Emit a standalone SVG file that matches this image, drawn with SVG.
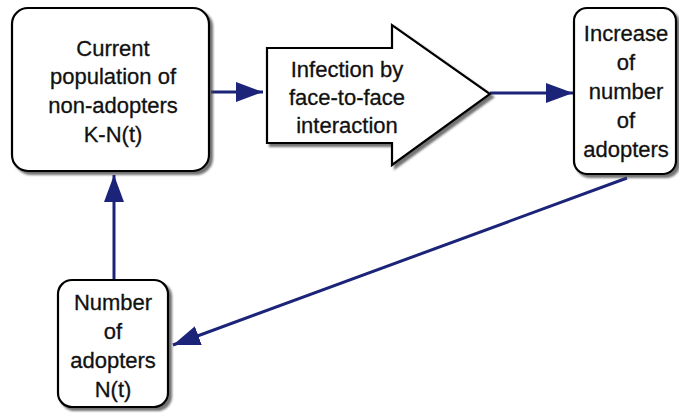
<svg xmlns="http://www.w3.org/2000/svg" width="679" height="418" viewBox="0 0 679 418">
<style>
.node{fill:#ffffff;stroke:#000000;stroke-width:2.2;filter:url(#sh)}
.t{font-family:"Liberation Sans",Arial,sans-serif;font-size:22px;fill:#111111;stroke:#111111;stroke-width:0.3;text-anchor:middle}
.c{stroke:#1b2479;stroke-width:3;fill:none;marker-end:url(#ah)}
</style>
<defs>
<filter id="sh" x="-10%" y="-10%" width="130%" height="130%">
<feDropShadow dx="3" dy="3" stdDeviation="1.2" flood-color="#444444" flood-opacity="0.75"/>
</filter>
<marker id="ah" markerUnits="userSpaceOnUse" viewBox="0 0 27 20" markerWidth="27" markerHeight="20" refX="27" refY="10" orient="auto">
<path d="M0,0 L27,10 L0,20 z" fill="#1b2479"/>
</marker>
</defs>
<rect width="679" height="418" fill="#ffffff"/>
<g id="connectors">
<line class="c" x1="211" y1="92" x2="263" y2="92"/>
<line class="c" x1="490" y1="93" x2="573" y2="93"/>
<line class="c" x1="114" y1="280" x2="114" y2="175"/>
<line class="c" x1="627" y1="178" x2="173" y2="345"/>
</g>
<g id="current-population">
<rect class="node" x="12" y="8" width="197" height="163" rx="16"/>
<text class="t" x="113" y="56">Current</text>
<text class="t" x="113" y="84">population of</text>
<text class="t" x="113" y="113">non-adopters</text>
<text class="t" x="113" y="142">K-N(t)</text>
</g>
<g id="infection">
<polygon class="node" points="267,48 392,48 392,25 490,94 392,165 392,143 267,143"/>
<text class="t" x="347" y="77">Infection by</text>
<text class="t" x="347" y="105">face-to-face</text>
<text class="t" x="347" y="133">interaction</text>
</g>
<g id="increase">
<rect class="node" x="574" y="8" width="102" height="166" rx="13"/>
<text class="t" x="626" y="41">Increase</text>
<text class="t" x="626" y="70">of</text>
<text class="t" x="626" y="99">number</text>
<text class="t" x="626" y="128">of</text>
<text class="t" x="626" y="157">adopters</text>
</g>
<g id="number-adopters">
<rect class="node" x="58" y="280" width="110" height="127" rx="14"/>
<text class="t" x="113" y="310">Number</text>
<text class="t" x="113" y="339">of</text>
<text class="t" x="113" y="368">adopters</text>
<text class="t" x="113" y="397">N(t)</text>
</g>
</svg>
